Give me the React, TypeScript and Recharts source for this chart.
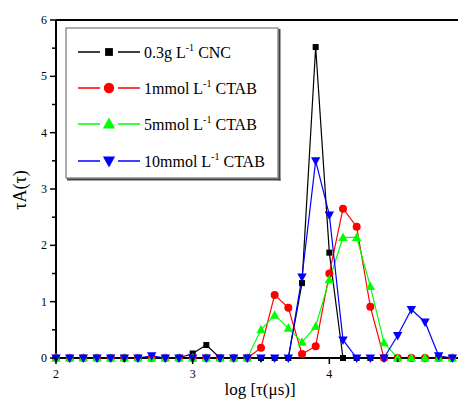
import React from 'react';
import { LineChart, Line, XAxis, YAxis, ReferenceLine, Customized } from 'recharts';

const logTau = [2.0, 2.1, 2.2, 2.3, 2.4, 2.5, 2.6, 2.7, 2.8, 2.9, 3.0, 3.1, 3.2, 3.3, 3.4, 3.5, 3.6, 3.7, 3.8, 3.9, 4.0, 4.1, 4.2, 4.3, 4.4, 4.5, 4.6, 4.7, 4.8, 4.9, 5.0];
const cnc03 = [0, 0, 0, 0, 0, 0, 0, 0, 0, 0, 0.08, 0.23, 0, 0, 0, 0, 0, 0, 1.33, 5.52, 1.87, 0, 0, 0, 0, 0, 0, 0, 0, 0, 0];
const ctab1 = [0, 0, 0, 0, 0, 0, 0, 0, 0, 0, 0, 0, 0, 0, 0, 0.18, 1.12, 0.89, 0.07, 0.21, 1.5, 2.65, 2.33, 0.91, 0, 0, 0, 0, 0, 0, 0];
const ctab5 = [0, 0, 0, 0, 0, 0, 0, 0, 0, 0, 0, 0, 0, 0, 0, 0.5, 0.76, 0.53, 0.28, 0.56, 1.39, 2.14, 2.14, 1.27, 0.27, 0, 0, 0, 0, 0, 0];
const ctab10 = [0, 0, 0, 0, 0, 0, 0, 0.04, 0, 0, 0, 0, 0, 0, 0, 0, 0, 0, 1.44, 3.5, 2.54, 0.32, 0, 0, 0, 0.4, 0.86, 0.64, 0.04, 0, 0];

const xTicks = [2, 2.5, 3, 3.5, 4, 4.5];
const yTicks = [0, 0.5, 1, 1.5, 2, 2.5, 3, 3.5, 4, 4.5, 5, 5.5, 6];

const seriesKeys = ['cnc03', 'ctab1', 'ctab5', 'ctab10'];
const seriesColors = ['#000000', '#ff0000', '#00ff00', '#0000ff'];
const seriesShapes = ['square', 'circle', 'triangle', 'triangleDown'];
const legendMain = ['0.3g L', '1mmol L', '5mmol L', '10mmol L'];
const legendSup = ['-1', '-1', '-1', '-1'];
const legendTail = [' CNC', ' CTAB', ' CTAB', ' CTAB'];

const rows = logTau.map((x, i) => ({
  x,
  cnc03: cnc03[i],
  ctab1: ctab1[i],
  ctab5: ctab5[i],
  ctab10: ctab10[i],
}));

const FONT = '"Liberation Serif", "DejaVu Serif", serif';

function Marker({ shape, cx, cy, color, s = 1 }: { shape: string; cx: number; cy: number; color: string; s?: number }) {
  if (shape === 'square') {
    const h = 3 * s;
    return <rect x={cx - h} y={cy - h} width={2 * h} height={2 * h} fill={color} />;
  }
  if (shape === 'circle') {
    return <circle cx={cx} cy={cy} r={4 * s} fill={color} />;
  }
  if (shape === 'triangle') {
    return (
      <polygon
        points={`${cx},${cy - 5 * s} ${cx - 4.7 * s},${cy + 3.5 * s} ${cx + 4.7 * s},${cy + 3.5 * s}`}
        fill={color}
      />
    );
  }
  return (
    <polygon
      points={`${cx},${cy + 5 * s} ${cx - 4.7 * s},${cy - 3.5 * s} ${cx + 4.7 * s},${cy - 3.5 * s}`}
      fill={color}
    />
  );
}

const makeDot = (shape: string, color: string) => (props: any) => {
  const { cx, cy, index } = props;
  if (cx == null || cy == null) return <g key={`d-${index}`} />;
  return (
    <g key={`d-${shape}-${index}`}>
      <Marker shape={shape} cx={cx} cy={cy} color={color} />
    </g>
  );
};

const XTick = (props: any) => {
  const { x, y, payload } = props;
  const v = payload.value;
  const major = Math.abs(v - Math.round(v)) < 1e-6;
  return (
    <g>
      <line x1={x} y1={y} x2={x} y2={y + (major ? 6 : 4)} stroke="#000" strokeWidth={1.5} />
      {major && (
        <text x={x} y={y + 20} textAnchor="middle" fontSize={12} fontFamily={FONT} fill="#000">
          {v}
        </text>
      )}
    </g>
  );
};

const YTick = (props: any) => {
  const { x, y, payload } = props;
  const v = payload.value;
  const major = Math.abs(v - Math.round(v)) < 1e-6;
  return (
    <g>
      <line x1={x - (major ? 6 : 4)} y1={y} x2={x} y2={y} stroke="#000" strokeWidth={1.5} />
      {major && (
        <text x={x - 9} y={y + 4} textAnchor="end" fontSize={12} fontFamily={FONT} fill="#000">
          {v}
        </text>
      )}
    </g>
  );
};

const LegendBox = () => {
  const rowY = [52, 88, 124, 161];
  return (
    <g>
      <rect x={66} y={28} width={212} height={150} fill="#fff" stroke="#777" strokeWidth={1.2} />
      <line x1={279.5} y1={29} x2={279.5} y2={180.5} stroke="#444" strokeWidth={2} />
      <line x1={67} y1={179.5} x2={280.5} y2={179.5} stroke="#444" strokeWidth={2} />
      {seriesKeys.map((k, i) => (
        <g key={k}>
          <line x1={78} y1={rowY[i]} x2={100} y2={rowY[i]} stroke={seriesColors[i]} strokeWidth={1.5} />
          <line x1={118} y1={rowY[i]} x2={140} y2={rowY[i]} stroke={seriesColors[i]} strokeWidth={1.5} />
          <Marker shape={seriesShapes[i]} cx={109} cy={rowY[i]} color={seriesColors[i]} s={1.3} />
          <text x={144} y={rowY[i] + 6} fontSize={16} fontFamily={FONT} fill="#000">
            <tspan>{legendMain[i]}</tspan>
            <tspan dy={-7} fontSize={10}>{legendSup[i]}</tspan>
            <tspan dy={7}>{legendTail[i]}</tspan>
          </text>
        </g>
      ))}
    </g>
  );
};

const AxisTitles = () => (
  <g>
    <text x={260} y={395} textAnchor="middle" fontSize={17} fontFamily={FONT} fill="#000">
      log [τ(μs)]
    </text>
    <text
      x={26}
      y={190}
      textAnchor="middle"
      fontSize={18}
      fontFamily={FONT}
      fill="#000"
      transform="rotate(-90 26 190)"
    >
      τA(τ)
    </text>
  </g>
);

export default function App() {
  return (
    <div
      style={{
        position: 'absolute',
        left: 0,
        top: 0,
        width: 458,
        height: 399,
        overflow: 'hidden',
        background: '#fff',
      }}
    >
      <LineChart width={470} height={399} data={rows} margin={{ top: 20, right: 4, bottom: 0, left: 0 }}>
        <XAxis
          dataKey="x"
          type="number"
          domain={[2, 5]}
          ticks={xTicks}
          interval={0}
          tickSize={0}
          tickMargin={0}
          tickLine={false}
          tick={<XTick />}
          height={41}
          axisLine={{ stroke: '#000', strokeWidth: 2 }}
        />
        <YAxis
          type="number"
          domain={[0, 6]}
          ticks={yTicks}
          interval={0}
          tickSize={0}
          tickMargin={0}
          tickLine={false}
          tick={<YTick />}
          width={56}
          axisLine={{ stroke: '#000', strokeWidth: 2 }}
        />
        <ReferenceLine y={6} stroke="#000" strokeWidth={2} />
        <ReferenceLine x={5} stroke="#000" strokeWidth={2} />
        {seriesKeys.map((k, i) => (
          <Line
            key={k}
            type="linear"
            dataKey={k}
            stroke={seriesColors[i]}
            strokeWidth={1.2}
            dot={makeDot(seriesShapes[i], seriesColors[i])}
            activeDot={false}
            isAnimationActive={false}
          />
        ))}
        <Customized component={LegendBox} />
        <Customized component={AxisTitles} />
      </LineChart>
    </div>
  );
}
